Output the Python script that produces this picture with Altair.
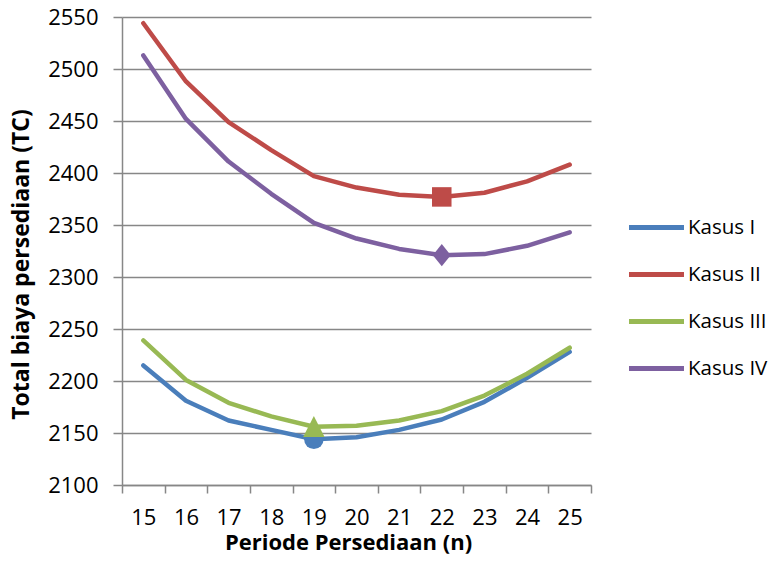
import altair as alt
import pandas as pd

# ---- data ----
periods = [15, 16, 17, 18, 19, 20, 21, 22, 23, 24, 25]
kasus_1 = [2215, 2181, 2162, 2153, 2144, 2146, 2153, 2163, 2180, 2203, 2228]
kasus_2 = [2544, 2488, 2449, 2422, 2397, 2386, 2379, 2377, 2381, 2392, 2408]
kasus_3 = [2239, 2201, 2179, 2166, 2156, 2157, 2162, 2171, 2186, 2207, 2232]
kasus_4 = [2513, 2452, 2411, 2380, 2352, 2337, 2327, 2321, 2322, 2330, 2343]

series_names = ["Kasus I", "Kasus II", "Kasus III", "Kasus IV"]
series_values = [kasus_1, kasus_2, kasus_3, kasus_4]
series_colors = ["#4A7EBB", "#BE4B48", "#98B954", "#7D60A0"]
optimum_period = [19, 22, 19, 22]
optimum_shapes = [
    "circle",
    "square",
    "M0,-1.1L1.1,1.05L-1.1,1.05Z",
    "M0,-1.15L0.92,0L0,1.15L-0.92,0Z",
]

y_ticks = [2100, 2150, 2200, 2250, 2300, 2350, 2400, 2450, 2500, 2550]

rows = []
for name, vals in zip(series_names, series_values):
    for p, v in zip(periods, vals):
        rows.append({"Periode": p, "TC": v, "Kasus": name})
df = pd.DataFrame(rows)

opt_rows = []
for name, vals, p, sh, col in zip(series_names, series_values, optimum_period,
                                  optimum_shapes, series_colors):
    opt_rows.append({"Periode": p, "TC": vals[periods.index(p)], "Kasus": name,
                     "shape": sh, "col": col})
opt = pd.DataFrame(opt_rows)

FONT = "Open Sans"
GRAY = "#878787"
W, H = 469, 468
band = W / len(periods)

x_scale = alt.Scale(domain=[periods[0] - 0.5, periods[-1] + 0.5], nice=False, zero=False)
y_scale = alt.Scale(domain=[y_ticks[0], y_ticks[-1]], nice=False, zero=False)
color_scale = alt.Scale(domain=series_names, range=series_colors)

x_axis = alt.Axis(
    values=[p - 0.5 for p in periods] + [periods[-1] + 0.5],
    labelExpr="datum.value < 25 ? format(datum.value + 0.5, 'd') : ''",
    labelOffset=band / 2,
    labelFlush=False,
    labelOverlap=False,
    grid=False,
    tickSize=8, tickColor=GRAY, tickWidth=1.5,
    domainColor=GRAY, domainWidth=1.5,
    labelFont=FONT, labelFontSize=22, labelColor="black", labelPadding=14,
    title="Periode Persediaan (n)",
    titleFont=FONT, titleFontSize=22, titleFontWeight="bold", titleColor="black",
    titleX=226, titleY=64, titleBaseline="alphabetic", titleAlign="center",
)

y_axis = alt.Axis(
    values=y_ticks, format="d",
    grid=True, gridColor=GRAY, gridWidth=1.5,
    tickSize=9, tickColor=GRAY, tickWidth=1.5,
    domainColor=GRAY, domainWidth=1.5,
    labelFont=FONT, labelFontSize=22, labelColor="black", labelPadding=15,
    labelFlush=False, labelOverlap=False,
    title="Total biaya persediaan (TC)",
    titleFont=FONT, titleFontSize=23, titleFontWeight="bold", titleColor="black",
    titleX=-101, titleY=247, titleBaseline="middle", titleAlign="center", titleAngle=-90,
)

legend = alt.Legend(
    title=None, orient="none", legendX=518, legendY=194,
    symbolType="M-2,0H2", symbolSize=756, symbolStrokeWidth=5,
    labelFont=FONT, labelFontSize=20.5, labelColor="black",
    labelOffset=15, rowPadding=20, padding=0,
)

lines = alt.Chart(df).mark_line(strokeWidth=4.5, strokeCap="round", strokeJoin="round").encode(
    x=alt.X("Periode:Q", scale=x_scale, axis=x_axis),
    y=alt.Y("TC:Q", scale=y_scale, axis=y_axis),
    color=alt.Color("Kasus:N", scale=color_scale, legend=legend),
    detail="Kasus:N",
)

points = alt.Chart(opt).mark_point(filled=True, opacity=1, size=380, strokeWidth=0).encode(
    x=alt.X("Periode:Q", scale=x_scale),
    y=alt.Y("TC:Q", scale=y_scale),
    fill=alt.Fill("col:N", scale=None),
    shape=alt.Shape("shape:N", scale=None),
)

chart = alt.layer(lines, points).properties(
    width=W, height=H,
    autosize=alt.AutoSizeParams(type="none"),
    padding={"left": 114, "top": 9, "right": 184, "bottom": 80},
    background="white",
).configure_view(stroke=None)

chart.save("out.html", embed_options={"renderer": "svg", "actions": False})
